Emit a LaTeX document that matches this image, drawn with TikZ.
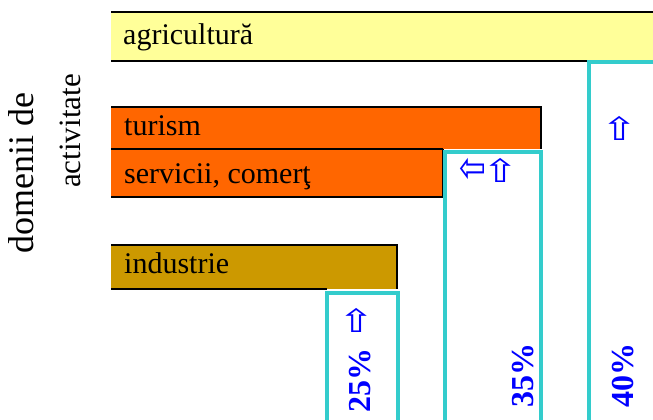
\documentclass[tikz,border=0pt]{standalone}
\usepackage{fontspec}
\setmainfont{Liberation Serif}
\newfontfamily\symfont{DejaVu Sans}
\definecolor{agriyellow}{HTML}{FFFF99}
\definecolor{orangebar}{HTML}{FF6600}
\definecolor{indbar}{HTML}{CC9900}
\definecolor{boxcyan}{HTML}{33CCCC}
\definecolor{pctblue}{HTML}{0000FF}
\newcommand{\uparr}{\scalebox{1.35}[1]{⇧}}
\newcommand{\leftarr}{\scalebox{1}[1.35]{⇦}}
\begin{document}
\begin{tikzpicture}[x=1pt,y=-1pt,
  bar/.style={fill=#1, draw=none, inner sep=0pt, outer sep=0pt, anchor=north west},
  blackedge/.style={line width=2pt, black},
  pctbox/.style={draw=boxcyan, fill=white, line width=4pt, inner sep=0pt, outer sep=0pt, anchor=north west},
  pct/.style={text=pctblue, font=\fontsize{32}{38}\selectfont\bfseries, rotate=90, anchor=base west, inner sep=0pt},
  cat/.style={font=\fontsize{30}{36}\selectfont, anchor=base west, inner sep=0pt},
  axislabel/.style={rotate=90, anchor=base west, inner sep=0pt},
  arr/.style={text=pctblue, font=\symfont\fontsize{32}{36}\selectfont, inner sep=0pt}
]
\useasboundingbox (0,0) rectangle (653,420);
\fill[white] (0,0) rectangle (653,420);
\clip (0,0) rectangle (653,420);

% bars
\node[bar=agriyellow, minimum width=560pt, minimum height=49pt] (agri) at (111,12) {};
\node[bar=orangebar, minimum width=430pt, minimum height=42pt] (tur) at (111,107) {};
\node[bar=orangebar, minimum width=332pt, minimum height=48pt] (serv) at (111,149) {};
\node[bar=indbar, minimum width=286pt, minimum height=44pt] (ind) at (111,245) {};

% boxes
\node[pctbox, minimum width=80pt, minimum height=380pt] (b40) at (589,62.5) {};
\node[pctbox, minimum width=95.5pt, minimum height=290pt] (b35) at (445,152) {};
\node[pctbox, minimum width=71pt, minimum height=150pt] (b25) at (326.5,292.5) {};

% black edges
\draw[blackedge] (agri.north west) -- (agri.north east);
\draw[blackedge] (agri.south west) -- (agri.south west -| b40.west);
\draw[blackedge] (tur.north west) -- (tur.north east) -- (tur.south east);
\draw[blackedge] (tur.south west) -- (serv.north east);
\draw[blackedge] (serv.south west) -- (serv.south east) -- (serv.north east);
\draw[blackedge] (ind.north west) -- (ind.north east) -- (ind.south east);
\draw[blackedge] (ind.south west) -- (ind.south west -| b25.west);

% redraw box borders on top
\draw[boxcyan, line width=4pt] (b40.south west) -- (b40.north west) -- (b40.north east);
\draw[boxcyan, line width=4pt] (b35.south west) -- (b35.north west) -- (b35.north east) -- (b35.south east);
\draw[boxcyan, line width=4pt] (b25.south west) -- (b25.north west) -- (b25.north east) -- (b25.south east);

% category labels
\node[cat] (tagri) at (123,45) {agricultură};
\node[cat] (ttur) at (124,135) {turism};
\node[cat] (tserv) at (124,183) {servicii, comerţ};
\node[cat] (tind) at (124,273) {industrie};

% axis label
\node[axislabel, font=\fontsize{36}{40}\selectfont] (ax1) at (33,254) {domenii de};
\node[axislabel, font=\fontsize{31}{36}\selectfont] (ax2) at (80,188) {activitate};

% percentages
\node[pct] (p25) at (370,413) {25\%};
\node[pct] (p35) at (533,408) {35\%};
\node[pct] (p40) at (633,408) {40\%};

% arrows
\node[arr] (a40) at (620,128) {\uparr};
\node[arr] (a35l) at (473,170) {\leftarr};
\node[arr] (a35u) at (501,170) {\uparr};
\node[arr] (a25) at (357,320) {\uparr};
\end{tikzpicture}
\end{document}
